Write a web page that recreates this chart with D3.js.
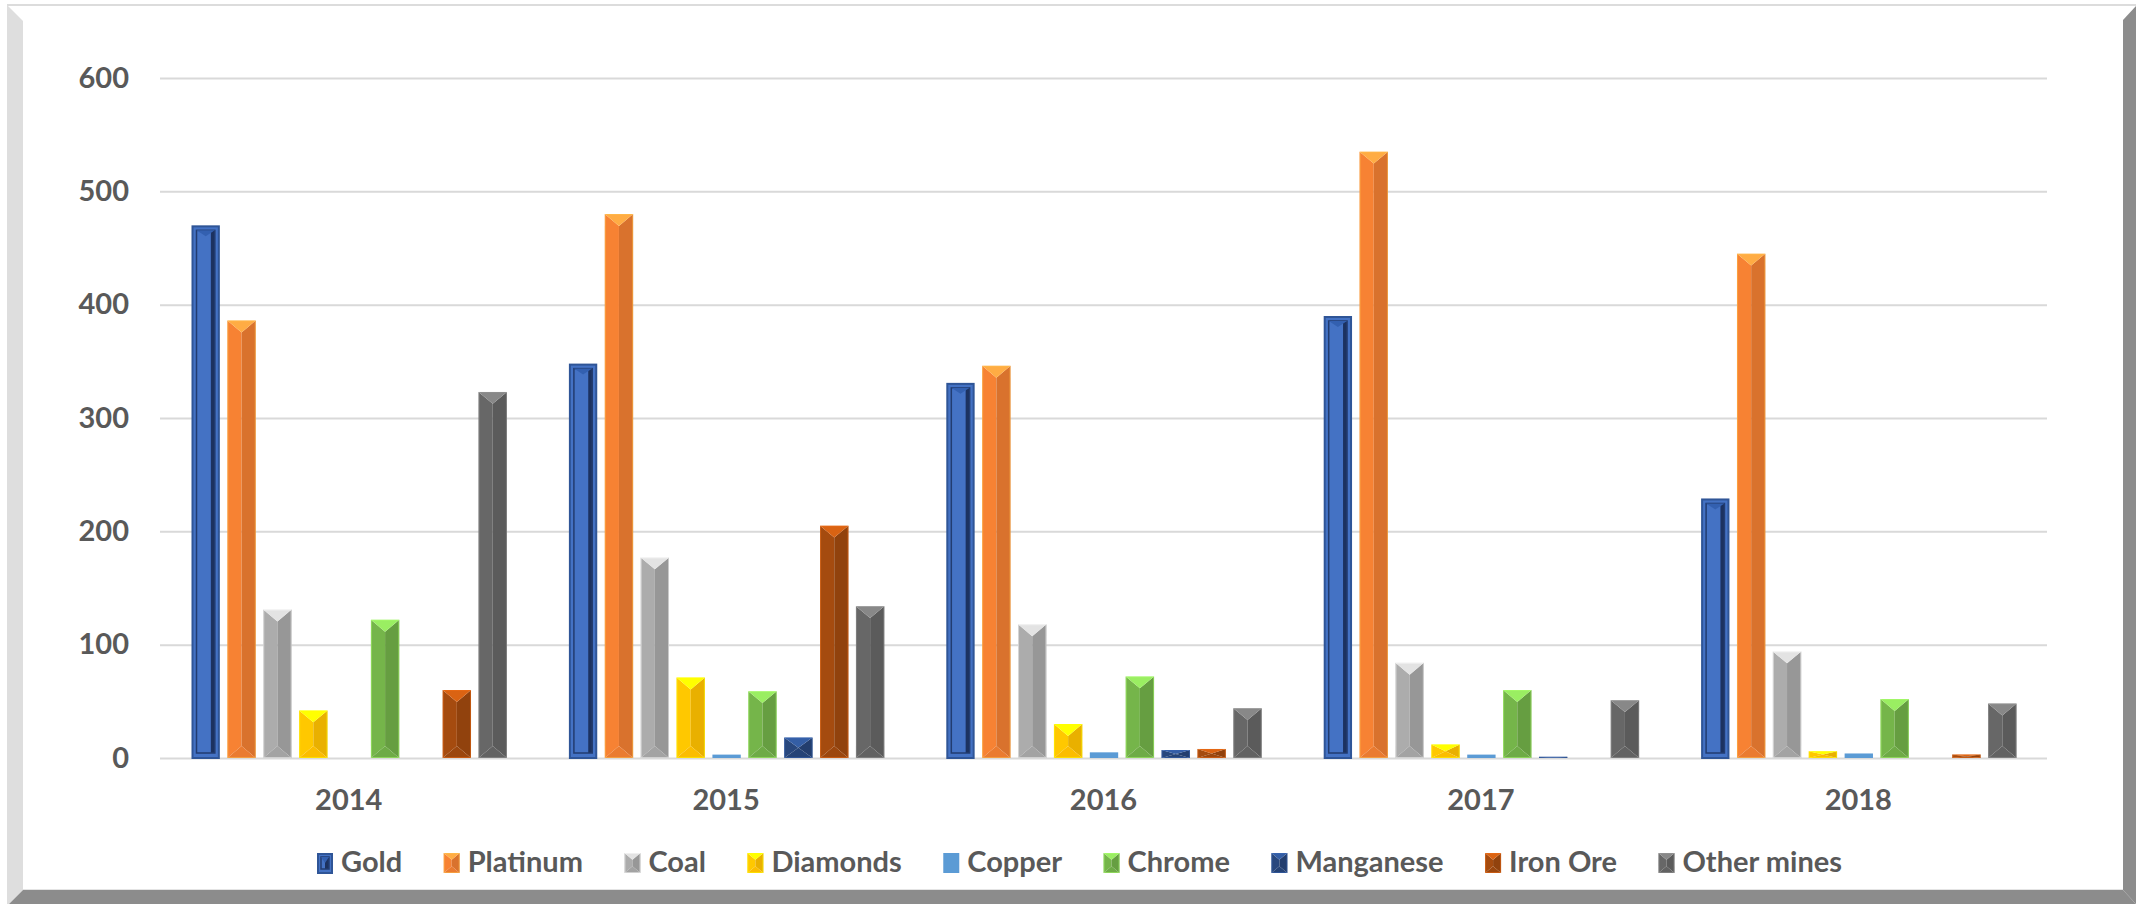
<!DOCTYPE html>
<html>
<head>
<meta charset="utf-8">
<script src="https://cdn.jsdelivr.net/npm/d3@7"></script>
<style>
  body { margin: 0; background: #fff; }
  svg { display: block; }
  text { font-family: Lato, "Open Sans", sans-serif; font-weight: 700; fill: #595959; }
</style>
</head>
<body>
<svg id="chart"></svg>
<script>
const years = ["2014", "2015", "2016", "2017", "2018"];
const seriesNames = ["Gold", "Platinum", "Coal", "Diamonds", "Copper", "Chrome", "Manganese", "Iron Ore", "Other mines"];
const seriesColors = ["#4472C4", "#ED7D31", "#A5A5A5", "#FFC000", "#5B9BD5", "#70AD47", "#264478", "#9E480E", "#636363"];

const gold = [470, 348, 331, 390, 229];
const platinum = [386, 480, 346, 535, 445];
const coal = [131, 177, 118, 84, 94];
const diamonds = [42, 71, 30, 12, 6];
const copper = [0, 3, 5, 3, 4];
const chrome = [122, 59, 72, 60, 52];
const manganese = [0, 18, 7, 1, 0];
const ironOre = [60, 205, 8, 0, 3];
const otherMines = [323, 134, 44, 51, 48];

const yTicks = [0, 100, 200, 300, 400, 500, 600];

const seriesValues = [gold, platinum, coal, diamonds, copper, chrome, manganese, ironOre, otherMines];

const chartW = 2136, chartH = 904;
const plotLeft = 160, plotRight = 2047, plotTop = 78, plotBottom = 758;

const svg = d3.select("#chart")
    .attr("width", chartW)
    .attr("height", chartH);

// picture frame round the chart
svg.append("line")
    .attr("x1", 7).attr("x2", 2136).attr("y1", 5).attr("y2", 5)
    .attr("stroke", "#dcdcdc").attr("stroke-width", 2);
svg.append("polygon")
    .attr("points", "7,5 23,21 23,890 9,904 7,904")
    .attr("fill", "#dedede");
svg.append("polygon")
    .attr("points", "2136,6 2136,904 2123,890 2123,20")
    .attr("fill", "#8c8c8c");
svg.append("polygon")
    .attr("points", "9,904 23,890 2123,890 2136,904")
    .attr("fill", "#8c8c8c");
svg.append("line")
    .attr("x1", 23).attr("x2", 2123).attr("y1", 889.5).attr("y2", 889.5)
    .attr("stroke", "#e4e4e4").attr("stroke-width", 1);

const x0 = d3.scaleBand()
    .domain(years)
    .range([plotLeft, plotRight]);

const x1 = d3.scaleBand()
    .domain(seriesNames)
    .range([31.5, x0.bandwidth() - 30.5])
    .paddingInner(0.21);

const y = d3.scaleLinear()
    .domain([0, 600])
    .range([plotBottom, plotTop]);

// gridlines + y labels
const yAxis = svg.append("g")
    .attr("transform", `translate(${plotLeft},0)`)
    .call(d3.axisLeft(y).tickValues(yTicks).tickSize(-(plotRight - plotLeft)).tickPadding(31));
yAxis.select(".domain").remove();
yAxis.selectAll(".tick line").attr("stroke", "#d9d9d9").attr("stroke-width", 2);
yAxis.selectAll(".tick text").attr("font-size", 29).attr("fill", "#595959");

const xAxis = svg.append("g")
    .attr("transform", `translate(0,${plotBottom})`)
    .call(d3.axisBottom(x0).tickSize(0).tickPadding(31));
xAxis.select(".domain").remove();
xAxis.selectAll(".tick text").attr("font-size", 29).attr("fill", "#595959");

// bevelled bar
function drawBar(g, x, yTop, w, h, color, name) {
    if (h <= 0) return;
    const c = d3.color(color);
    if (name === "Copper") {
        g.append("rect").attr("x", x).attr("y", yTop).attr("width", w).attr("height", h)
            .attr("fill", color);
        return;
    }
    if (name === "Gold") {
        g.append("rect").attr("x", x + 1).attr("y", yTop + 1).attr("width", w - 2).attr("height", Math.max(h - 1, 0))
            .attr("fill", color).attr("stroke", "#2F5597").attr("stroke-width", 2);
        const i = Math.min(5, w / 4, h / 4);
        if (h > 12) {
            g.append("rect").attr("x", x + w - i - 4).attr("y", yTop + i).attr("width", 4).attr("height", h - 2 * i)
                .attr("fill", "#1c3260");
            g.append("rect").attr("x", x + i).attr("y", yTop + i).attr("width", w - 2 * i).attr("height", h - 2 * i)
                .attr("fill", "none").attr("stroke", "#223c70").attr("stroke-width", 1.5);
            g.append("polygon")
                .attr("points", `${x + i},${yTop + i} ${x + w - i},${yTop + i} ${x + w / 2},${yTop + i + 6}`)
                .attr("fill", "#3360b0");
        }
        return;
    }
    const m = x + w / 2;
    const d = Math.min(w * 0.42, h / 2);
    const b = yTop + h;
    g.append("polygon")
        .attr("points", `${x},${yTop} ${m},${yTop + d} ${m},${b - d} ${x},${b}`)
        .attr("fill", c.brighter(0.12));
    g.append("polygon")
        .attr("points", `${x + w},${yTop} ${m},${yTop + d} ${m},${b - d} ${x + w},${b}`)
        .attr("fill", c.darker(0.25));
    g.append("polygon")
        .attr("points", `${x},${yTop} ${x + w},${yTop} ${m},${yTop + d}`)
        .attr("fill", c.brighter(0.9));
    g.append("polygon")
        .attr("points", `${x},${b} ${x + w},${b} ${m},${b - d}`)
        .attr("fill", c.darker(0.04));
    g.append("rect").attr("x", x + 0.5).attr("y", yTop + 0.5).attr("width", w - 1).attr("height", Math.max(h - 1, 0))
        .attr("fill", "none").attr("stroke", c.brighter(1.2)).attr("stroke-opacity", 0.5).attr("stroke-width", 1);
}

const groups = svg.append("g")
    .selectAll("g")
    .data(years)
    .join("g")
    .attr("transform", d => `translate(${x0(d)},0)`);

groups.each(function(year, yi) {
    const g = d3.select(this);
    seriesNames.forEach((name, si) => {
        const v = seriesValues[si][yi];
        drawBar(g, x1(name), y(v), x1.bandwidth(), y(0) - y(v), seriesColors[si], name);
    });
});

// legend
const legend = svg.append("g");
const items = legend.selectAll("g")
    .data(seriesNames)
    .join("g");
items.each(function(name, i) {
    drawBar(d3.select(this), 0, 853, 16, 20, seriesColors[i], name);
});
items.append("text")
    .attr("x", 24)
    .attr("y", 872)
    .attr("font-size", 29)
    .text(d => d);

const widths = [];
items.select("text").each(function() { widths.push(24 + this.getComputedTextLength()); });
const legendStart = 317, legendEnd = 1842;
const gap = (legendEnd - legendStart - d3.sum(widths)) / (seriesNames.length - 1);
let pos = legendStart;
items.attr("transform", (d, i) => {
    const t = `translate(${pos},0)`;
    pos += widths[i] + gap;
    return t;
});
</script>
</body>
</html>
